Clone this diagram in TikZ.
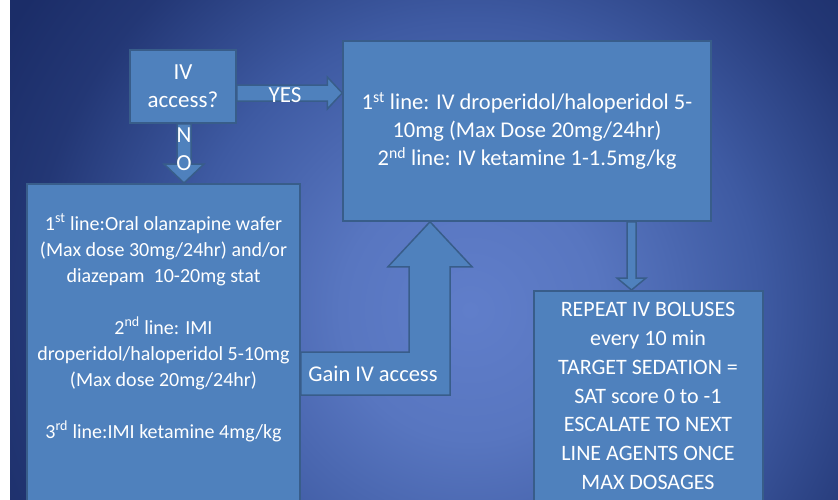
\documentclass[tikz,border=0pt]{standalone}
\usepackage{fontspec}
\setmainfont{Carlito}
\usetikzlibrary{calc,positioning}
\definecolor{boxfill}{RGB}{79,129,189}
\definecolor{boxline}{RGB}{56,93,138}
\definecolor{bgin}{RGB}{96,126,202}
\definecolor{bgin2}{RGB}{88,118,192}
\definecolor{bgmid}{RGB}{62,90,162}
\definecolor{bgout}{RGB}{35,55,117}
\definecolor{bgfar}{RGB}{27,45,104}
\pgfdeclareradialshading{slidebg}{\pgfpoint{0bp}{0bp}}{color(0bp)=(bgin); color(6bp)=(bgin2); color(13.5bp)=(bgmid); color(20.5bp)=(bgout); color(25bp)=(bgfar); color(50bp)=(bgfar)}

\begin{document}
\begin{tikzpicture}[x=1pt, y=-1pt,
    box/.style={draw=boxline, fill=boxfill, line width=1.5pt, inner sep=0pt,
                text=white, align=center},
    txt/.style={text=white, align=center, inner sep=0pt},
    blk/.style={draw=boxline, fill=boxfill, line width=1.5pt, line join=miter}]

  \useasboundingbox (0,0) rectangle (838,499);
  \clip (0,0) rectangle (838,499);
  \fill[white] (0,0) rectangle (10,499);
  \begin{scope}
    \clip (10,0) rectangle (838,499);
    \fill[bgfar] (10,0) rectangle (838,499);
    \shade[shading=slidebg] (470,310) circle[radius=540pt];
  \end{scope}

  % boxes
  \node[box, font=\fontsize{23}{28}\selectfont, minimum width=106pt,
        minimum height=73pt] (ivq) at (183,86.5) {IV\\access?};
  \node[box, font=\fontsize{22.5}{28}\selectfont, minimum width=368pt,
        minimum height=180pt] (ivbox) at (527,131)
    {1\textsuperscript{st} line: IV droperidol/haloperidol 5-\\
     10mg (Max Dose 20mg/24hr)\\
     2\textsuperscript{nd} line: IV ketamine 1-1.5mg/kg};
  \node[box, minimum width=273pt, minimum height=340pt, anchor=north]
    (imbox) at (163.5,183) {};
  \node[box, minimum width=229pt, minimum height=240pt, anchor=north]
    (rptbox) at (648.5,290) {};

  \node[txt, font=\fontsize{20}{26}\selectfont] (imtext) at (163.5,328)
    {1\textsuperscript{st} line:Oral olanzapine wafer\\
     (Max dose 30mg/24hr) and/or\\
     diazepam\ \ 10-20mg stat\\[26pt]
     2\textsuperscript{nd} line: IMI\\
     droperidol/haloperidol 5-10mg\\
     (Max dose 20mg/24hr)\\[26pt]
     3\textsuperscript{rd} line:IMI ketamine 4mg/kg};
  \node[txt, font=\fontsize{22}{28.8}\selectfont] (rptext) at (648,396)
    {REPEAT IV BOLUSES\\ every 10 min\\ TARGET SEDATION =\\
     SAT score 0 to -1\\ ESCALATE TO NEXT\\ LINE AGENTS ONCE\\ MAX DOSAGES};

  % block arrows
  \coordinate (ya) at ($(ivq.east)+(0,6.5)$);
  \coordinate (yb) at (ivbox.west |- ya);
  \filldraw[blk] ($(ya)+(0,-8)$) -- ($(yb)+(-15,-8)$) -- ($(yb)+(-15,-16)$)
    -- (yb) -- ($(yb)+(-15,16)$) -- ($(yb)+(-15,8)$) -- ($(ya)+(0,8)$) -- cycle;

  \coordinate (na) at ($(ivq.south)+(1,0)$);
  \coordinate (nb) at (imbox.north -| na);
  \filldraw[blk] ($(na)+(-7,0)$) -- ($(nb)+(-7,-19)$) -- ($(nb)+(-20,-19)$)
    -- (nb) -- ($(nb)+(20,-19)$) -- ($(nb)+(7,-19)$) -- ($(na)+(7,0)$) -- cycle;

  \coordinate (da) at ($(ivbox.south)+(104.5,0)$);
  \coordinate (db) at (rptbox.north -| da);
  \filldraw[blk] ($(da)+(-4.5,0)$) -- ($(db)+(-4.5,-12)$) -- ($(db)+(-14.5,-12)$)
    -- (db) -- ($(db)+(14.5,-12)$) -- ($(db)+(4.5,-12)$) -- ($(da)+(4.5,0)$) -- cycle;

  \coordinate (gt) at ($(ivbox.south)+(-97,0)$);
  \coordinate (g0) at ($(imbox.north east)+(0,169)$);
  \coordinate (g1) at ($(imbox.north east)+(0,212)$);
  \filldraw[blk] (g0) -- ($(gt |- g0)+(-21,0)$) -- ($(gt)+(-21,45)$)
    -- ($(gt)+(-42,45)$) -- (gt) -- ($(gt)+(42,45)$) -- ($(gt)+(20,45)$)
    -- ($(gt |- g1)+(20,0)$) -- (g1) -- cycle;

  % labels on the arrows
  \node[txt, font=\fontsize{23}{28}\selectfont] (yes) at (285,95) {YES};
  \node[txt, font=\fontsize{23}{28}\selectfont] (no) at (184,149) {N\\O};
  \node[txt, font=\fontsize{22.5}{28}\selectfont] (gain) at (373,374)
    {Gain IV access};
\end{tikzpicture}
\end{document}
